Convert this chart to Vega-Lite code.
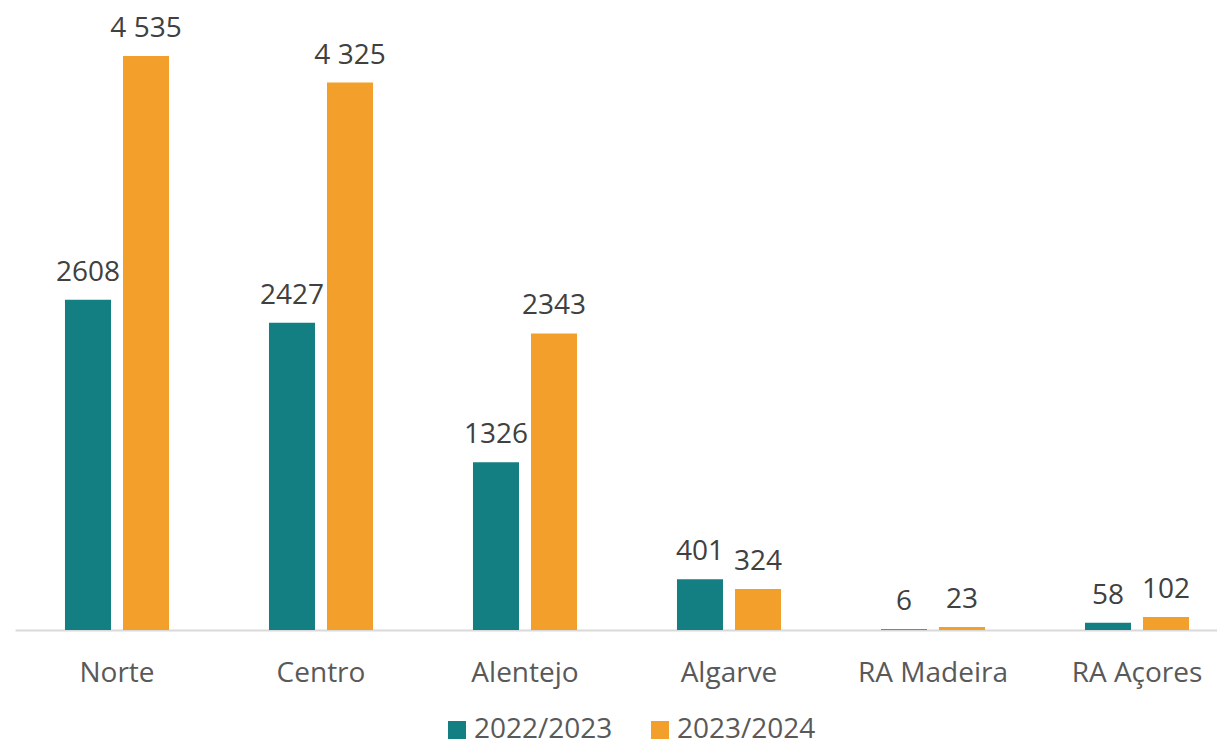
{
  "$schema": "https://vega.github.io/schema/vega-lite/v6.json",
  "width": 1224,
  "height": 630,
  "autosize": {"type": "none"},
  "padding": {"left": 15, "top": 0, "right": 0, "bottom": 118},
  "background": "white",
  "config": {"view": {"stroke": null}, "font": "Open Sans"},
  "data": {
    "values": [
      {"region": "Norte", "year": "2022/2023", "value": 2608, "label": "2608"},
      {"region": "Norte", "year": "2023/2024", "value": 4535, "label": "4 535"},
      {"region": "Centro", "year": "2022/2023", "value": 2427, "label": "2427"},
      {"region": "Centro", "year": "2023/2024", "value": 4325, "label": "4 325"},
      {"region": "Alentejo", "year": "2022/2023", "value": 1326, "label": "1326"},
      {"region": "Alentejo", "year": "2023/2024", "value": 2343, "label": "2343"},
      {"region": "Algarve", "year": "2022/2023", "value": 401, "label": "401"},
      {"region": "Algarve", "year": "2023/2024", "value": 324, "label": "324"},
      {"region": "RA Madeira", "year": "2022/2023", "value": 6, "label": "6"},
      {"region": "RA Madeira", "year": "2023/2024", "value": 23, "label": "23"},
      {"region": "RA Açores", "year": "2022/2023", "value": 58, "label": "58"},
      {"region": "RA Açores", "year": "2023/2024", "value": 102, "label": "102"}
    ]
  },
  "encoding": {
    "x": {
      "field": "region",
      "type": "nominal",
      "sort": null,
      "scale": {"paddingInner": 0.49, "paddingOuter": 0.245},
      "axis": {
        "title": null,
        "labelAngle": 0,
        "labelFontSize": 28,
        "labelColor": "#595959",
        "labelPadding": 29,
        "ticks": false,
        "domainColor": "#d9d9d9",
        "domainWidth": 2,
        "grid": false
      }
    },
    "xOffset": {
      "field": "year",
      "type": "nominal",
      "scale": {"paddingInner": 0.207, "paddingOuter": 0}
    },
    "y": {
      "field": "value",
      "type": "quantitative",
      "scale": {"domain": [0, 4977], "nice": false, "zero": true},
      "axis": null
    }
  },
  "layer": [
    {
      "mark": {"type": "bar"},
      "encoding": {
        "color": {
          "field": "year",
          "type": "nominal",
          "scale": {"domain": ["2022/2023", "2023/2024"], "range": ["#137F83", "#F29F2B"]},
          "legend": {
            "title": null,
            "orient": "none",
            "legendX": 428,
            "legendY": 716,
            "direction": "horizontal",
            "symbolType": "square",
            "symbolSize": 324,
            "symbolStrokeWidth": 0,
            "labelFontSize": 28,
            "labelColor": "#595959",
            "labelOffset": 3,
            "columnPadding": 33
          }
        }
      }
    },
    {
      "mark": {"type": "text", "baseline": "alphabetic", "dy": -19, "fontSize": 28, "color": "#404040"},
      "encoding": {"text": {"field": "label"}}
    }
  ]
}
